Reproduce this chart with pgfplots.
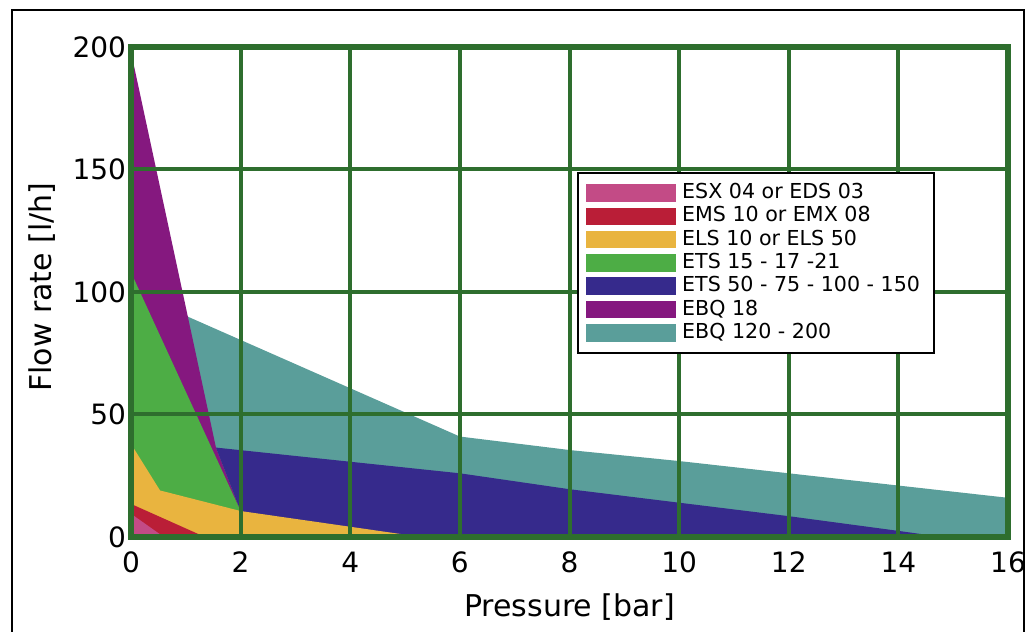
\documentclass[border=0pt]{standalone}
\usepackage{fontspec}
\setmainfont{DejaVu Sans}
\usepackage{pgfplots}
\pgfplotsset{compat=1.18}
\definecolor{gridgreen}{RGB}{46,110,46}
\definecolor{cpink}{RGB}{195,75,134}
\definecolor{cred}{RGB}{186,30,55}
\definecolor{cyellow}{RGB}{233,180,63}
\definecolor{cgreen}{RGB}{77,173,69}
\definecolor{cblue}{RGB}{54,42,140}
\definecolor{cpurple}{RGB}{133,24,127}
\definecolor{cteal}{RGB}{90,158,154}
\begin{document}
\begin{tikzpicture}
\useasboundingbox (0,0) rectangle (514.5bp,316bp);
\draw[black, line width=1.2bp] (6bp,-10bp) -- (6bp,311bp) -- (512bp,311bp) -- (512bp,-10bp);
\begin{axis}[
  at={(65.5bp,47.5bp)}, anchor=south west,
  scale only axis, width=438.5bp, height=245bp,
  xmin=0, xmax=16, ymin=0, ymax=200,
  xtick={0,2,...,16}, ytick={0,50,...,200},
  major tick length=0pt,
  grid=major,
  major grid style={draw=gridgreen, line width=2bp},
  axis line style={draw=gridgreen, line width=3bp, line join=miter},
  axis on top,
  /pgf/number format/assume math mode=true,
  ticklabel style={font=\fontsize{14bp}{17bp}\selectfont},
  xticklabel style={yshift=-4bp},
  yticklabel style={xshift=1bp},
  xlabel={Pressure [bar]},
  ylabel={Flow rate [l/h]},
  label style={font=\fontsize{15bp}{18bp}\selectfont},
  xlabel style={at={(axis description cs:0.5,-0.1429)}, anchor=center},
  ylabel style={at={(axis description cs:-0.1015,0.51)}, anchor=center},
  reverse legend,
  legend cell align=left,
  legend image code/.code={\fill[#1] (0bp,-4.4bp) rectangle (45bp,4.4bp);},
  legend style={at={(axis cs:8.14,149)}, anchor=north west, draw=black, line width=1bp,
    font=\fontsize{10.3bp}{12bp}\selectfont, inner xsep=4bp, inner ysep=5.3bp,
    row sep=2.15bp,
    nodes={inner xsep=3bp, inner ysep=0pt, text height=7.5bp, text depth=2bp}},
]
% back to front
\addplot[fill=cteal, draw=none] coordinates {(1.03,90) (6,41) (8,35.5) (10,31) (12,26) (14,21) (16,16) (16,0) (1.03,0)} -- cycle;
\addlegendentry{EBQ 120 - 200}
\addplot[fill=cpurple, draw=none] coordinates {(0,198) (1.55,36.5) (2,10.6) (0,0)} -- cycle;
\addlegendentry{EBQ 18}
\addplot[fill=cblue, draw=none] coordinates {(1.55,36.5) (6,26) (8,19.5) (10,14) (12,8.5) (14,2.5) (14.8,0) (2,0) (2,10.6)} -- cycle;
\addlegendentry{ETS 50 - 75 - 100 - 150}
\addplot[fill=cgreen, draw=none] coordinates {(0,108) (2,10.6) (2,0) (0,0)} -- cycle;
\addlegendentry{ETS 15 - 17 -21}
\addplot[fill=cyellow, draw=none] coordinates {(0,38) (0.53,19) (2,10.6) (5.3,0) (0,0)} -- cycle;
\addlegendentry{ELS 10 or ELS 50}
\addplot[fill=cred, draw=none] coordinates {(0,13.5) (1.35,0) (0,0)} -- cycle;
\addlegendentry{EMS 10 or EMX 08}
\addplot[fill=cpink, draw=none] coordinates {(0,9.5) (0.6,0) (0,0)} -- cycle;
\addlegendentry{ESX 04 or EDS 03}
\end{axis}
\end{tikzpicture}
\end{document}
